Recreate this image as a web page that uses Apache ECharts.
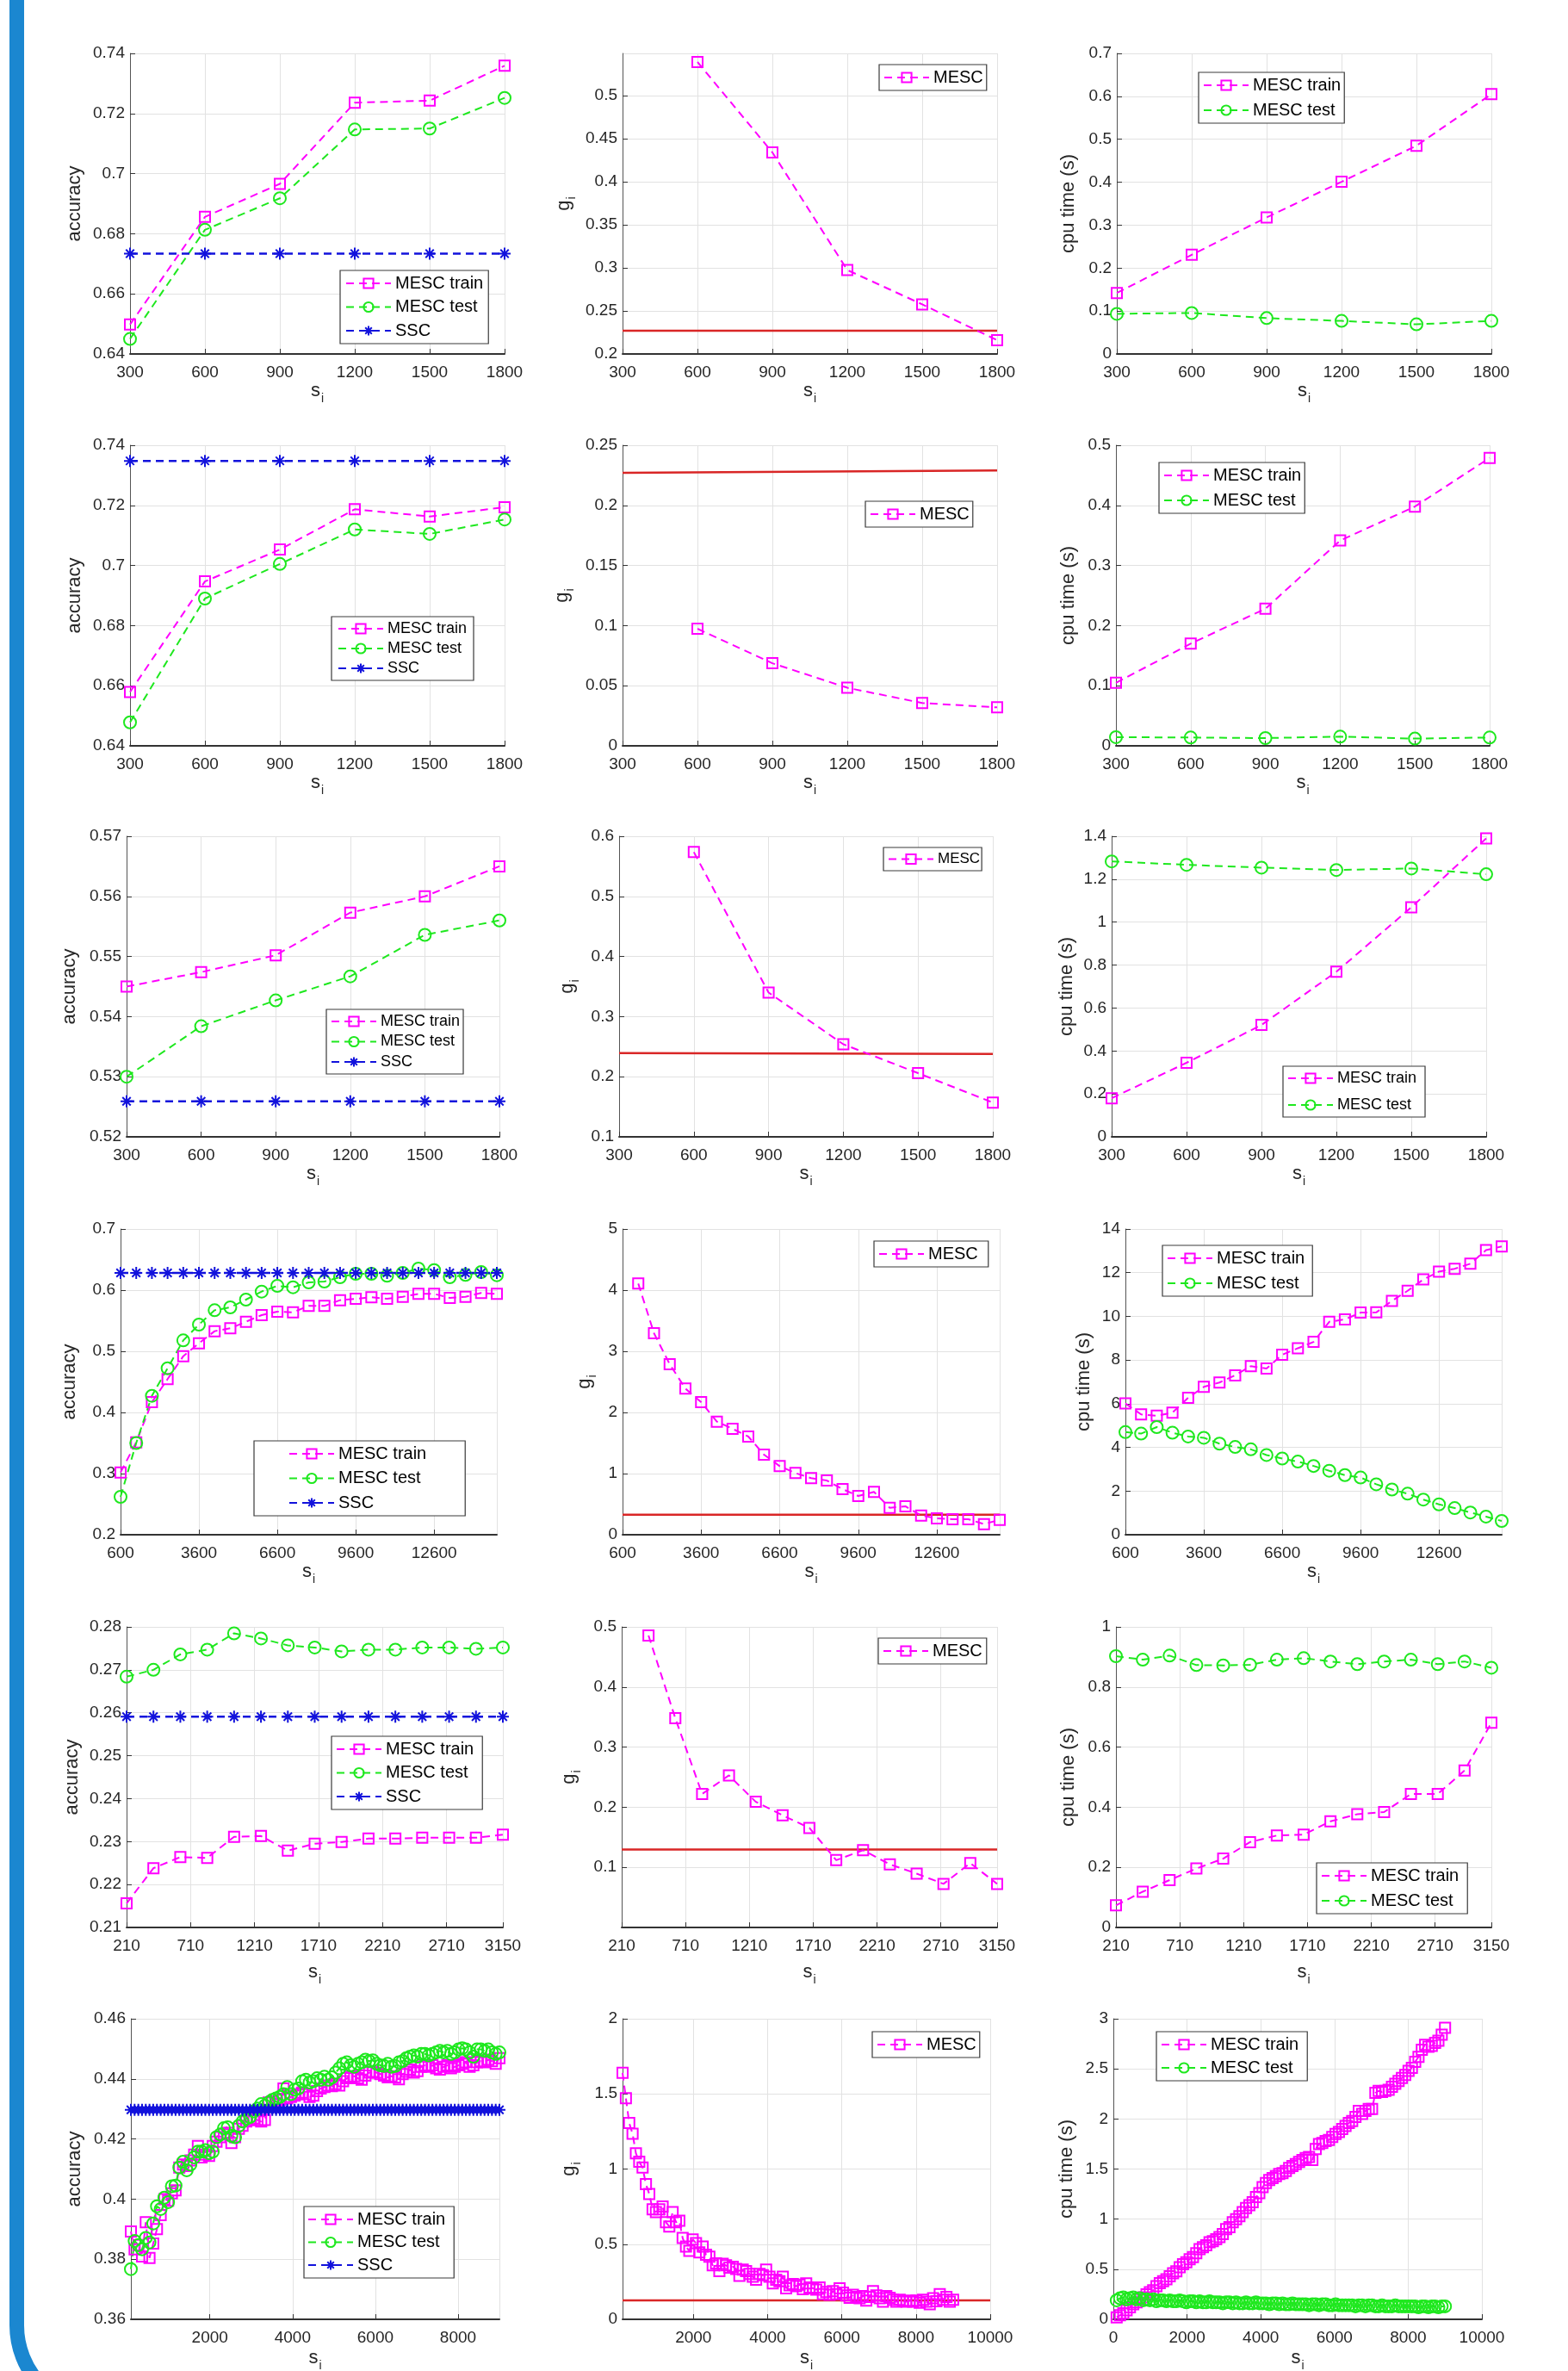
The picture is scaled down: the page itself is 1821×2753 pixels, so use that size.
<!DOCTYPE html>
<html><head><meta charset="utf-8">
<script src="https://cdn.jsdelivr.net/npm/echarts@6/dist/echarts.min.js"></script>
<style>html,body{margin:0;padding:0;background:#fff}#c{width:1821px;height:2753px}</style>
</head><body><div id="c"></div>
<script>
// ---------------- DATA ----------------
const r13_x = [300,600,900,1200,1500,1800];
const r13_gx = [600,900,1200,1500,1800];
const thr_x13 = [300,1800];

// Row 1
const r1_acc_train = [0.6498,0.6856,0.6966,0.7236,0.7243,0.7359];
const r1_acc_test  = [0.6450,0.6813,0.6918,0.7147,0.7150,0.7252];
const r1_acc_ssc   = [0.6734,0.6734,0.6734,0.6734,0.6734,0.6734];
const r1_g         = [0.539,0.434,0.2975,0.2576,0.216];
const r1_thr       = [0.227,0.227];
const r1_cpu_train = [0.142,0.231,0.318,0.401,0.485,0.605];
const r1_cpu_test  = [0.0935,0.0955,0.0835,0.077,0.069,0.077];

// Row 2
const r2_acc_train = [0.6579,0.6947,0.7053,0.7187,0.7163,0.7194];
const r2_acc_test  = [0.6478,0.6890,0.7005,0.7120,0.7105,0.7153];
const r2_acc_ssc   = [0.7348,0.7348,0.7348,0.7348,0.7348,0.7348];
const r2_g         = [0.0974,0.0687,0.0483,0.0356,0.0320];
const r2_thr       = [0.2270,0.2290];
const r2_cpu_train = [0.1048,0.170,0.228,0.3416,0.398,0.479];
const r2_cpu_test  = [0.0144,0.0139,0.0129,0.0153,0.0120,0.0139];

// Row 3
const r3_acc_train = [0.5450,0.5474,0.5502,0.5573,0.5600,0.5650];
const r3_acc_test  = [0.5300,0.5384,0.5427,0.5467,0.5536,0.5560];
const r3_acc_ssc   = [0.5259,0.5259,0.5259,0.5259,0.5259,0.5259];
const r3_g         = [0.5737,0.340,0.254,0.206,0.157];
const r3_thr       = [0.2395,0.2378];
const r3_cpu_train = [0.180,0.345,0.521,0.769,1.069,1.390];
const r3_cpu_test  = [1.283,1.267,1.254,1.243,1.250,1.223];

// Row 4
const r4_x = [600,1200,1800,2400,3000,3600,4200,4800,5400,6000,6600,7200,7800,8400,9000,9600,10200,10800,11400,12000,12600,13200,13800,14400,15000];
const r4_gx = [1200,1800,2400,3000,3600,4200,4800,5400,6000,6600,7200,7800,8400,9000,9600,10200,10800,11400,12000,12600,13200,13800,14400,15000];
const thr_x4 = [600,15000];
const r4_acc_train = [0.3019,0.3512,0.4169,0.4545,0.4920,0.5131,0.5329,0.5376,0.5484,0.5592,0.5648,0.5638,0.5742,0.5742,0.5836,0.5859,0.5883,0.5859,0.5892,0.5939,0.5939,0.5873,0.5892,0.5953,0.5939];
const r4_acc_test  = [0.262,0.350,0.4272,0.4723,0.5178,0.5437,0.5671,0.5718,0.5845,0.5977,0.6070,0.6047,0.6127,0.6141,0.6211,0.6268,0.6268,0.6235,0.6282,0.6352,0.6329,0.6211,0.6249,0.6296,0.6244];
const r4_acc_ssc   = [0.6282,0.6282,0.6282,0.6282,0.6282,0.6282,0.6282,0.6282,0.6282,0.6282,0.6282,0.6282,0.6282,0.6282,0.6282,0.6282,0.6282,0.6282,0.6282,0.6282,0.6282,0.6282,0.6282,0.6282,0.6282];
const r4_g         = [4.108,3.296,2.789,2.390,2.169,1.850,1.732,1.606,1.310,1.122,1.009,0.925,0.887,0.746,0.634,0.700,0.441,0.465,0.315,0.268,0.254,0.254,0.174,0.244];
const r4_thr       = [0.329,0.329];
const r4_cpu_train = [6.01,5.51,5.45,5.59,6.27,6.77,6.97,7.30,7.72,7.61,8.24,8.54,8.83,9.75,9.86,10.17,10.18,10.71,11.17,11.69,12.05,12.18,12.41,13.03,13.20];
const r4_cpu_test  = [4.70,4.63,4.93,4.67,4.50,4.44,4.17,4.02,3.91,3.65,3.49,3.35,3.15,2.93,2.73,2.62,2.31,2.07,1.88,1.61,1.39,1.22,1.02,0.83,0.63];

// Row 5
const r5_x = [210,420,630,840,1050,1260,1470,1680,1890,2100,2310,2520,2730,2940,3150];
const r5_gx = [420,630,840,1050,1260,1470,1680,1890,2100,2310,2520,2730,2940,3150];
const thr_x5 = [210,3150];
const r5_acc_train = [0.2156,0.2238,0.2264,0.2262,0.2311,0.2313,0.2279,0.2295,0.2299,0.2307,0.2307,0.2309,0.2309,0.2309,0.2316];
const r5_acc_test  = [0.2684,0.2700,0.2736,0.2747,0.2785,0.2773,0.2757,0.2752,0.2743,0.2747,0.2747,0.2752,0.2752,0.2749,0.2752];
const r5_acc_ssc   = [0.2591,0.2591,0.2591,0.2591,0.2591,0.2591,0.2591,0.2591,0.2591,0.2591,0.2591,0.2591,0.2591,0.2591,0.2591];
const r5_g         = [0.4857,0.348,0.222,0.253,0.209,0.1865,0.1656,0.112,0.1285,0.1049,0.0896,0.0725,0.1071,0.0725];
const r5_thr       = [0.1295,0.1295];
const r5_cpu_train = [0.0735,0.119,0.1576,0.196,0.229,0.284,0.306,0.309,0.353,0.377,0.384,0.444,0.444,0.522,0.681];
const r5_cpu_test  = [0.9026,0.891,0.9045,0.873,0.872,0.874,0.891,0.896,0.885,0.876,0.885,0.891,0.876,0.885,0.864];

// Row 6
const r6_x = [90,180,270,360,450,540,630,720,810,900,
  990,1080,1170,1260,1350,1440,1530,1620,1710,1800,
  1890,1980,2070,2160,2250,2340,2430,2520,2610,2700,
  2790,2880,2970,3060,3150,3240,3330,3420,3510,3600,
  3690,3780,3870,3960,4050,4140,4230,4320,4410,4500,
  4590,4680,4770,4860,4950,5040,5130,5220,5310,5400,
  5490,5580,5670,5760,5850,5940,6030,6120,6210,6300,
  6390,6480,6570,6660,6750,6840,6930,7020,7110,7200,
  7290,7380,7470,7560,7650,7740,7830,7920,8010,8100,
  8190,8280,8370,8460,8550,8640,8730,8820,8910,9000];
const thr_x6 = [90,10000];
const r6_acc_train = [0.3892,0.3833,0.3847,0.3809,0.3923,0.3804,0.3852,0.3900,0.3947,0.4000,
  0.3995,0.4019,0.4029,0.4105,0.4115,0.4110,0.4129,0.4148,0.4177,0.4139,
  0.4148,0.4144,0.4177,0.4191,0.4206,0.4215,0.4220,0.4187,0.4206,0.4234,
  0.4244,0.4258,0.4263,0.4268,0.4263,0.4258,0.4263,0.4321,0.4325,0.4316,
  0.4330,0.4368,0.4335,0.4340,0.4344,0.4349,0.4354,0.4349,0.4340,0.4344,
  0.4359,0.4368,0.4373,0.4378,0.4376,0.4383,0.4378,0.4392,0.4402,0.4407,
  0.4409,0.4402,0.4397,0.4411,0.4421,0.4424,0.4421,0.4416,0.4411,0.4405,
  0.4409,0.4405,0.4399,0.4416,0.4424,0.4431,0.4421,0.4426,0.4440,0.4445,
  0.4440,0.4445,0.4435,0.4431,0.4440,0.4445,0.4435,0.4440,0.4445,0.4450,
  0.4455,0.4440,0.4445,0.4455,0.4459,0.4455,0.4464,0.4459,0.4450,0.4469];
const r6_acc_test = [0.3767,0.3861,0.3847,0.3833,0.3871,0.3856,0.3919,0.3976,0.3967,0.4005,
  0.3990,0.4043,0.4045,0.4105,0.4124,0.4096,0.4115,0.4139,0.4158,0.4158,
  0.4163,0.4153,0.4158,0.4206,0.4215,0.4236,0.4239,0.4210,0.4206,0.4244,
  0.4258,0.4268,0.4273,0.4292,0.4301,0.4316,0.4311,0.4321,0.4330,0.4335,
  0.4340,0.4349,0.4373,0.4349,0.4364,0.4368,0.4392,0.4397,0.4388,0.4392,
  0.4402,0.4397,0.4407,0.4397,0.4405,0.4421,0.4435,0.4450,0.4455,0.4445,
  0.4440,0.4450,0.4455,0.4464,0.4459,0.4462,0.4450,0.4445,0.4443,0.4450,
  0.4440,0.4443,0.4455,0.4459,0.4469,0.4474,0.4478,0.4474,0.4483,0.4483,
  0.4478,0.4483,0.4488,0.4493,0.4488,0.4493,0.4483,0.4488,0.4498,0.4502,
  0.4498,0.4488,0.4474,0.4498,0.4498,0.4493,0.4498,0.4488,0.4483,0.4488];
const r6_acc_ssc = [0.4297,0.4297,0.4297,0.4297,0.4297,0.4297,0.4297,0.4297,0.4297,0.4297,
  0.4297,0.4297,0.4297,0.4297,0.4297,0.4297,0.4297,0.4297,0.4297,0.4297,
  0.4297,0.4297,0.4297,0.4297,0.4297,0.4297,0.4297,0.4297,0.4297,0.4297,
  0.4297,0.4297,0.4297,0.4297,0.4297,0.4297,0.4297,0.4297,0.4297,0.4297,
  0.4297,0.4297,0.4297,0.4297,0.4297,0.4297,0.4297,0.4297,0.4297,0.4297,
  0.4297,0.4297,0.4297,0.4297,0.4297,0.4297,0.4297,0.4297,0.4297,0.4297,
  0.4297,0.4297,0.4297,0.4297,0.4297,0.4297,0.4297,0.4297,0.4297,0.4297,
  0.4297,0.4297,0.4297,0.4297,0.4297,0.4297,0.4297,0.4297,0.4297,0.4297,
  0.4297,0.4297,0.4297,0.4297,0.4297,0.4297,0.4297,0.4297,0.4297,0.4297,
  0.4297,0.4297,0.4297,0.4297,0.4297,0.4297,0.4297,0.4297,0.4297,0.4297];
const r6_g = [1.640,1.472,1.306,1.235,1.105,1.048,1.010,0.899,0.834,0.732,
  0.713,0.732,0.751,0.646,0.618,0.713,0.646,0.656,0.541,0.484,
  0.455,0.532,0.507,0.446,0.484,0.430,0.417,0.359,0.373,0.321,
  0.369,0.359,0.344,0.350,0.335,0.289,0.331,0.321,0.302,0.283,
  0.264,0.302,0.293,0.331,0.283,0.239,0.264,0.254,0.283,0.207,
  0.226,0.235,0.220,0.231,0.201,0.239,0.212,0.207,0.197,0.212,
  0.168,0.182,0.163,0.187,0.168,0.207,0.178,0.159,0.143,0.163,
  0.149,0.140,0.155,0.124,0.149,0.187,0.159,0.140,0.117,0.155,
  0.143,0.130,0.117,0.130,0.120,0.117,0.124,0.117,0.124,0.111,
  0.130,0.117,0.101,0.140,0.120,0.168,0.130,0.149,0.117,0.130];
const r6_thr = [0.126,0.126];
const r6_cpu_train = [0.02,0.04,0.06,0.09,0.12,0.15,0.17,0.20,0.22,0.25,
  0.27,0.29,0.33,0.36,0.38,0.40,0.43,0.46,0.48,0.52,
  0.55,0.57,0.60,0.62,0.66,0.70,0.72,0.74,0.77,0.78,
  0.80,0.82,0.85,0.90,0.92,0.97,1.00,1.03,1.07,1.11,
  1.14,1.17,1.22,1.26,1.32,1.36,1.39,1.41,1.43,1.45,
  1.46,1.48,1.51,1.53,1.55,1.57,1.59,1.61,1.62,1.59,
  1.70,1.75,1.76,1.78,1.79,1.82,1.85,1.87,1.90,1.93,
  1.96,1.98,2.02,2.08,2.05,2.08,2.10,2.10,2.26,2.28,
  2.27,2.28,2.29,2.32,2.35,2.38,2.41,2.44,2.48,2.51,
  2.57,2.62,2.69,2.74,2.72,2.73,2.76,2.78,2.84,2.91];
const r6_cpu_test = [0.19,0.21,0.22,0.20,0.21,0.22,0.20,0.21,0.19,0.20,
  0.19,0.20,0.18,0.19,0.19,0.18,0.19,0.18,0.18,0.19,
  0.18,0.17,0.18,0.18,0.17,0.18,0.17,0.17,0.18,0.17,
  0.17,0.17,0.16,0.17,0.17,0.16,0.17,0.16,0.16,0.17,
  0.16,0.16,0.17,0.16,0.16,0.16,0.15,0.16,0.16,0.15,
  0.16,0.15,0.15,0.16,0.15,0.15,0.15,0.15,0.14,0.15,
  0.15,0.14,0.15,0.15,0.14,0.14,0.15,0.14,0.14,0.14,
  0.14,0.14,0.13,0.14,0.14,0.13,0.14,0.14,0.13,0.13,
  0.14,0.13,0.13,0.13,0.14,0.13,0.13,0.13,0.13,0.13,
  0.13,0.12,0.13,0.13,0.12,0.13,0.13,0.12,0.13,0.13];

// ---------------- STYLE ----------------
const FONT = '"Liberation Sans", Arial, Helvetica, sans-serif';
const CM = '#ff00ff', CG = '#1ee81e', CB = '#1212dc', CR = '#d92626', AX = '#262626';
const STAR = 'path://M0,5L10,5M5,0L5,10M1.6,1.6L8.4,8.4M1.6,8.4L8.4,1.6';
const STY = {
  train: {symbol: 'rect', size: 12, color: CM, lw: 2, dash: [9, 6], bw: 2},
  test:  {symbol: 'circle', size: 14, color: CG, lw: 2, dash: [9, 6], bw: 2},
  ssc:   {symbol: STAR, size: 14, color: CB, lw: 2.5, dash: [9, 6], bw: 2},
  thr:   {symbol: 'none', size: 0, color: CR, lw: 2.5, dash: 'solid', bw: 0}
};
const NAME = {fontSize: 22, color: AX, fontFamily: FONT,
  rich: {n: {fontSize: 22, color: AX, fontFamily: FONT},
         s: {fontSize: 14, color: AX, fontFamily: FONT, padding: [18, 0, 0, 1]}}};
const fmt = v => String(Math.round(v * 1e6) / 1e6);

const grids = [], xAxes = [], yAxes = [], series = [], legends = [];

function ser(kind, name, xs, ys, gi) {
  const s = STY[kind];
  return {type: 'line', name: name, xAxisIndex: gi, yAxisIndex: gi,
    data: xs.map((x, i) => [x, ys[i]]),
    symbol: s.symbol, symbolSize: s.size, showSymbol: kind !== 'thr',
    lineStyle: {color: s.color, width: s.lw, type: s.dash},
    itemStyle: {color: 'rgba(0,0,0,0)', borderColor: s.color, borderWidth: s.bw},
    emphasis: {disabled: true}, silent: true, animation: false,
    z: kind === 'thr' ? 2 : 3};
}

function panel(p) {
  const gi = grids.length;
  grids.push({left: p.g[0], top: p.g[1], width: p.g[2], height: p.g[3], outerBoundsMode: 'none', containLabel: false});
  const xa = {type: 'value', gridIndex: gi, min: p.x[0], max: p.x[1],
    name: '{n|s}{s|i}', nameLocation: 'middle', nameGap: p.xng, nameTextStyle: NAME,
    axisLine: {show: true, onZero: false, lineStyle: {color: '#333', width: 2}},
    axisTick: {show: true, inside: true, length: 6, lineStyle: {color: '#333', width: 1}},
    axisLabel: {fontSize: 19, color: AX, fontFamily: FONT, margin: 12, formatter: fmt,
      showMinLabel: !p.x[3], showMaxLabel: !p.x[4]},
    splitLine: {show: true, lineStyle: {color: '#e2e2e2', width: 1}}};
  if (p.x[2]) xa.interval = p.x[2];
  xAxes.push(xa);
  yAxes.push({type: 'value', gridIndex: gi, min: p.y[0], max: p.y[1], interval: p.y[2],
    name: p.yn, nameLocation: 'middle', nameGap: p.yng, nameTextStyle: NAME,
    axisLine: {show: true, onZero: false, lineStyle: {color: '#555', width: 1}},
    axisTick: {show: true, inside: true, length: 6, lineStyle: {color: '#333', width: 1}},
    axisLabel: {fontSize: 19, color: AX, fontFamily: FONT, margin: 6, formatter: fmt,
      showMinLabel: !p.y[3], showMaxLabel: !p.y[4]},
    splitLine: {show: true, lineStyle: {color: '#e2e2e2', width: 1}}});
  const names = [];
  p.s.forEach(s => { series.push(ser(s[0], s[1], s[2], s[3], gi)); if (s[0] !== 'thr') names.push(s[1]); });
  const L = p.lg;
  legends.push({orient: 'vertical', left: L[0], top: L[1], data: names,
    itemWidth: 52, itemHeight: 14, itemGap: L[3], padding: [5, L[5], 5, L[4]],
    backgroundColor: '#fff', borderColor: '#3a3a3a', borderWidth: 1.2,
    textStyle: {fontSize: L[2], color: '#000', fontFamily: FONT}, selectedMode: false, z: 10});
}

const X13 = [300, 1800, 300];
const ACC = 'accuracy', GI = '{n|g}{s|i}', CPU = 'cpu time (s)';

// Row 1
panel({g: [151, 62, 435, 349], x: X13, y: [0.64, 0.74, 0.02], yn: ACC, yng: 53, xng: 23,
  s: [['train', 'MESC train', r13_x, r1_acc_train], ['test', 'MESC test', r13_x, r1_acc_test], ['ssc', 'SSC', r13_x, r1_acc_ssc]],
  lg: [395, 314, 20, 7.5, 6, 6]});
panel({g: [723, 62, 435, 349], x: X13, y: [0.2, 0.549, 0.05, false, true], yn: GI, yng: 52, xng: 23,
  s: [['thr', 'thr1', thr_x13, r1_thr], ['train', 'MESC', r13_gx, r1_g]],
  lg: [1021, 75, 20, 0, 5, 4]});
panel({g: [1297, 62, 435, 349], x: X13, y: [0, 0.7, 0.1], yn: CPU, yng: 45, xng: 23,
  s: [['train', 'MESC train', r13_x, r1_cpu_train], ['test', 'MESC test', r13_x, r1_cpu_test]],
  lg: [1392, 84, 20, 9, 5, 4]});
// Row 2
panel({g: [151, 517, 435, 349], x: X13, y: [0.64, 0.74, 0.02], yn: ACC, yng: 53, xng: 23,
  s: [['train', 'MESC train', r13_x, r2_acc_train], ['test', 'MESC test', r13_x, r2_acc_test], ['ssc', 'SSC', r13_x, r2_acc_ssc]],
  lg: [385, 716, 18, 5, 7, 8]});
panel({g: [723, 517, 435, 349], x: X13, y: [0, 0.25, 0.05], yn: GI, yng: 54, xng: 23,
  s: [['thr', 'thr2', thr_x13, r2_thr], ['train', 'MESC', r13_gx, r2_g]],
  lg: [1005, 582, 20, 0, 5, 4]});
panel({g: [1296, 517, 434, 349], x: X13, y: [0, 0.5, 0.1], yn: CPU, yng: 44, xng: 23,
  s: [['train', 'MESC train', r13_x, r2_cpu_train], ['test', 'MESC test', r13_x, r2_cpu_test]],
  lg: [1346, 537, 20, 9, 5, 4]});
// Row 3
panel({g: [147, 971, 433, 349], x: X13, y: [0.52, 0.57, 0.01], yn: ACC, yng: 55, xng: 25,
  s: [['train', 'MESC train', r13_x, r3_acc_train], ['test', 'MESC test', r13_x, r3_acc_test], ['ssc', 'SSC', r13_x, r3_acc_ssc]],
  lg: [379, 1172, 18, 5.5, 5, 4]});
panel({g: [719, 971, 434, 349], x: X13, y: [0.1, 0.6, 0.1], yn: GI, yng: 44, xng: 25,
  s: [['thr', 'thr3', thr_x13, r3_thr], ['train', 'MESC', r13_gx, r3_g]],
  lg: [1026, 984, 17, 0, 5, 2]});
panel({g: [1291, 971, 435, 349], x: X13, y: [0, 1.4, 0.2], yn: CPU, yng: 41, xng: 25,
  s: [['train', 'MESC train', r13_x, r3_cpu_train], ['test', 'MESC test', r13_x, r3_cpu_test]],
  lg: [1490, 1238, 18, 13, 5, 10]});
// Row 4
const X4 = [600, 15000, 3000, false, true];
panel({g: [140, 1427, 437, 355], x: X4, y: [0.2, 0.7, 0.1], yn: ACC, yng: 48, xng: 27,
  s: [['train', 'MESC train', r4_x, r4_acc_train], ['test', 'MESC test', r4_x, r4_acc_test], ['ssc', 'SSC', r4_x, r4_acc_ssc]],
  lg: [295, 1673, 20, 8.5, 40, 45]});
panel({g: [723, 1427, 438, 355], x: X4, y: [0, 5, 1], yn: GI, yng: 28, xng: 27,
  s: [['thr', 'thr4', thr_x4, r4_thr], ['train', 'MESC', r4_gx, r4_g]],
  lg: [1015, 1441, 20, 0, 5, 12]});
panel({g: [1307, 1427, 437, 355], x: X4, y: [0, 14, 2], yn: CPU, yng: 37, xng: 27,
  s: [['train', 'MESC train', r4_x, r4_cpu_train], ['test', 'MESC test', r4_x, r4_cpu_test]],
  lg: [1350, 1446, 20, 9, 5, 9]});
// Row 5
const X5 = [210, 3150, 500];
panel({g: [147, 1889, 437, 349], x: X5, y: [0.21, 0.28, 0.01], yn: ACC, yng: 52, xng: 36,
  s: [['train', 'MESC train', r5_x, r5_acc_train], ['test', 'MESC test', r5_x, r5_acc_test], ['ssc', 'SSC', r5_x, r5_acc_ssc]],
  lg: [385, 2016, 20, 7.5, 5, 10]});
panel({g: [722, 1889, 436, 349], x: X5, y: [0, 0.5, 0.1, true, false], yn: GI, yng: 45, xng: 36,
  s: [['thr', 'thr5', thr_x5, r5_thr], ['train', 'MESC', r5_gx, r5_g]],
  lg: [1020, 1902, 20, 0, 5, 5]});
panel({g: [1296, 1889, 436, 349], x: X5, y: [0, 1, 0.2], yn: CPU, yng: 44, xng: 36,
  s: [['train', 'MESC train', r5_x, r5_cpu_train], ['test', 'MESC test', r5_x, r5_cpu_test]],
  lg: [1529, 2163, 20, 9, 5, 10]});
// Row 6
panel({g: [152, 2344, 428, 349], x: [90, 9000, null, true, true], y: [0.36, 0.46, 0.02], yn: ACC, yng: 54, xng: 29,
  s: [['train', 'MESC train', r6_x, r6_acc_train], ['test', 'MESC test', r6_x, r6_acc_test], ['ssc', 'SSC', r6_x, r6_acc_ssc]],
  lg: [353, 2562, 20, 6.5, 4, 10]});
panel({g: [723, 2344, 427, 349], x: [90, 10000, null, true, false], y: [0, 2, 0.5], yn: GI, yng: 46, xng: 29,
  s: [['thr', 'thr6', thr_x6, r6_thr], ['train', 'MESC', r6_x, r6_g]],
  lg: [1013, 2359, 20, 0, 5, 4]});
panel({g: [1293, 2344, 428, 349], x: [0, 10000, 2000], y: [0, 3, 0.5], yn: CPU, yng: 43, xng: 29,
  s: [['train', 'MESC train', r6_x, r6_cpu_train], ['test', 'MESC test', r6_x, r6_cpu_test]],
  lg: [1343, 2359, 20, 7, 5, 10]});

const chart = echarts.init(document.getElementById('c'), null, {renderer: 'canvas'});
chart.setOption({
  backgroundColor: '#fff', animation: false,
  textStyle: {fontFamily: FONT},
  grid: grids, xAxis: xAxes, yAxis: yAxes, series: series, legend: legends,
  graphic: [{type: 'rect', silent: true, z: 100,
    shape: {x: 19.5, y: -200, width: 3000, height: 3000, r: [0, 0, 0, 100]},
    style: {fill: 'none', stroke: '#1b87d0', lineWidth: 17}}]
});
</script></body></html>
